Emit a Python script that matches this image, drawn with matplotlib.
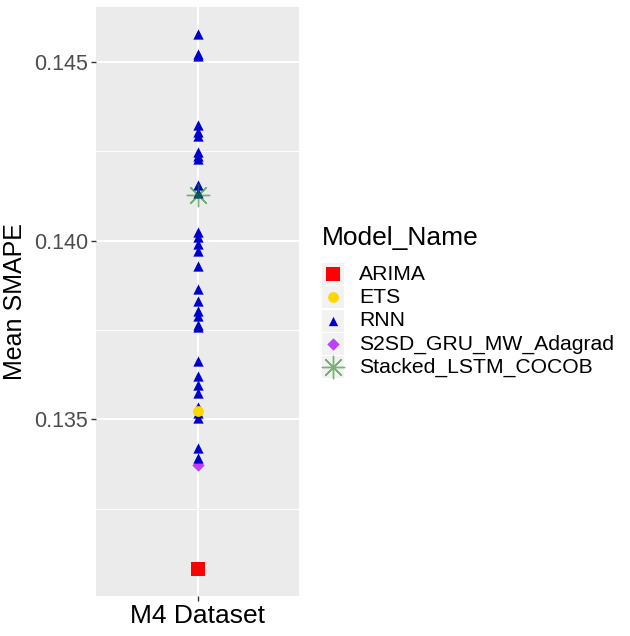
import numpy as np
import matplotlib
matplotlib.use("Agg")
import matplotlib.pyplot as plt
from matplotlib.patches import Rectangle

plt.rcParams['font.family'] = ['Liberation Sans', 'DejaVu Sans']

# data
dataset = "M4 Dataset"
model_names = ["ARIMA", "ETS", "RNN", "S2SD_GRU_MW_Adagrad", "Stacked_LSTM_COCOB"]
arima_smape = [0.13080]
ets_smape = [0.13524]
rnn_smape = [0.14579, 0.14523, 0.14516, 0.14325, 0.14304, 0.14292, 0.14248,
             0.14237, 0.14228, 0.14155, 0.14134, 0.14025, 0.14011, 0.13990,
             0.13972, 0.13928, 0.13865, 0.13830, 0.13802, 0.13788, 0.13765,
             0.13757, 0.13663, 0.13620, 0.13596, 0.13572, 0.13535, 0.13518,
             0.13504, 0.13419, 0.13391]
s2sd_smape = [0.13373]
stacked_smape = [0.14128]

values = [arima_smape, ets_smape, rnn_smape, s2sd_smape, stacked_smape]
colors = ["#FF0000", "#FFD700", "#0000CD", "#BF3EFF", "#228B22"]
markers = ["s", "o", "^", "D", (8, 2, 0)]
sizes = [90, 60, 55, 40, 260]
alphas = [1, 1, 1, 1, 0.6]
zorders = [3, 5, 4, 3, 6]

fig = plt.figure(figsize=(6.3, 6.36), dpi=100)
ax = fig.add_axes([96/630, 1-596/636, 203/630, 589/636])
ax.set_facecolor("#EBEBEB")

for vals, c, m, s, a, z in zip(values, colors, markers, sizes, alphas, zorders):
    x = np.zeros(len(vals))
    if m == (8, 2, 0):
        ax.scatter(x, vals, marker=m, s=s, edgecolors=c, facecolors=c, linewidths=1.0, alpha=a, zorder=z)
    else:
        ax.scatter(x, vals, marker=m, s=s, color=c, linewidths=0, alpha=a, zorder=z)

allv = np.concatenate([np.array(v) for v in values])
rng = allv.max() - allv.min()
ax.set_ylim(allv.min() - 0.05*rng, allv.max() + 0.05*rng)
ax.set_xlim(-0.6, 0.6)
ax.set_xticks([0])
ax.set_xticklabels([dataset], fontsize=19)
ax.set_yticks([0.135, 0.140, 0.145])
ax.set_yticklabels(["0.135", "0.140", "0.145"], fontsize=15.5, color="#4D4D4D")
ax.set_yticks([0.1325, 0.1375, 0.1425], minor=True)
ax.grid(True, which="major", color="white", linewidth=1.4)
ax.grid(True, which="minor", axis="y", color="white", linewidth=0.7)
ax.set_axisbelow(True)
for sp in ax.spines.values():
    sp.set_visible(False)
ax.tick_params(axis="both", which="major", length=3.5, color="#333333", width=1, pad=2)
ax.tick_params(axis="y", which="minor", length=0)
ax.set_ylabel("Mean SMAPE", fontsize=18, labelpad=5)

# legend drawn by hand, in pixel coordinates
leg = fig.add_axes([0, 0, 1, 1])
leg.set_xlim(0, 630)
leg.set_ylim(636, 0)
leg.axis("off")
leg.text(322, 238, "Model_Name", fontsize=19, va="center", ha="left")
for i, (name, c, m, a) in enumerate(zip(model_names, colors, markers, alphas)):
    yc = 274 + i*23.3
    leg.add_patch(Rectangle((322, yc - 11), 21.5, 22, facecolor="#F2F2F2", edgecolor="none"))
    if m == (8, 2, 0):
        leg.scatter([332.5], [yc], marker=m, s=260, edgecolors=c, facecolors=c, linewidths=1.0, alpha=a)
    else:
        leg.scatter([332.5], [yc], marker=m, s=[90, 60, 45, 40][i], color=c, linewidths=0)
    leg.text(359, yc, name, fontsize=15.2, va="center", ha="left")

fig.savefig("out.png", dpi=100)
